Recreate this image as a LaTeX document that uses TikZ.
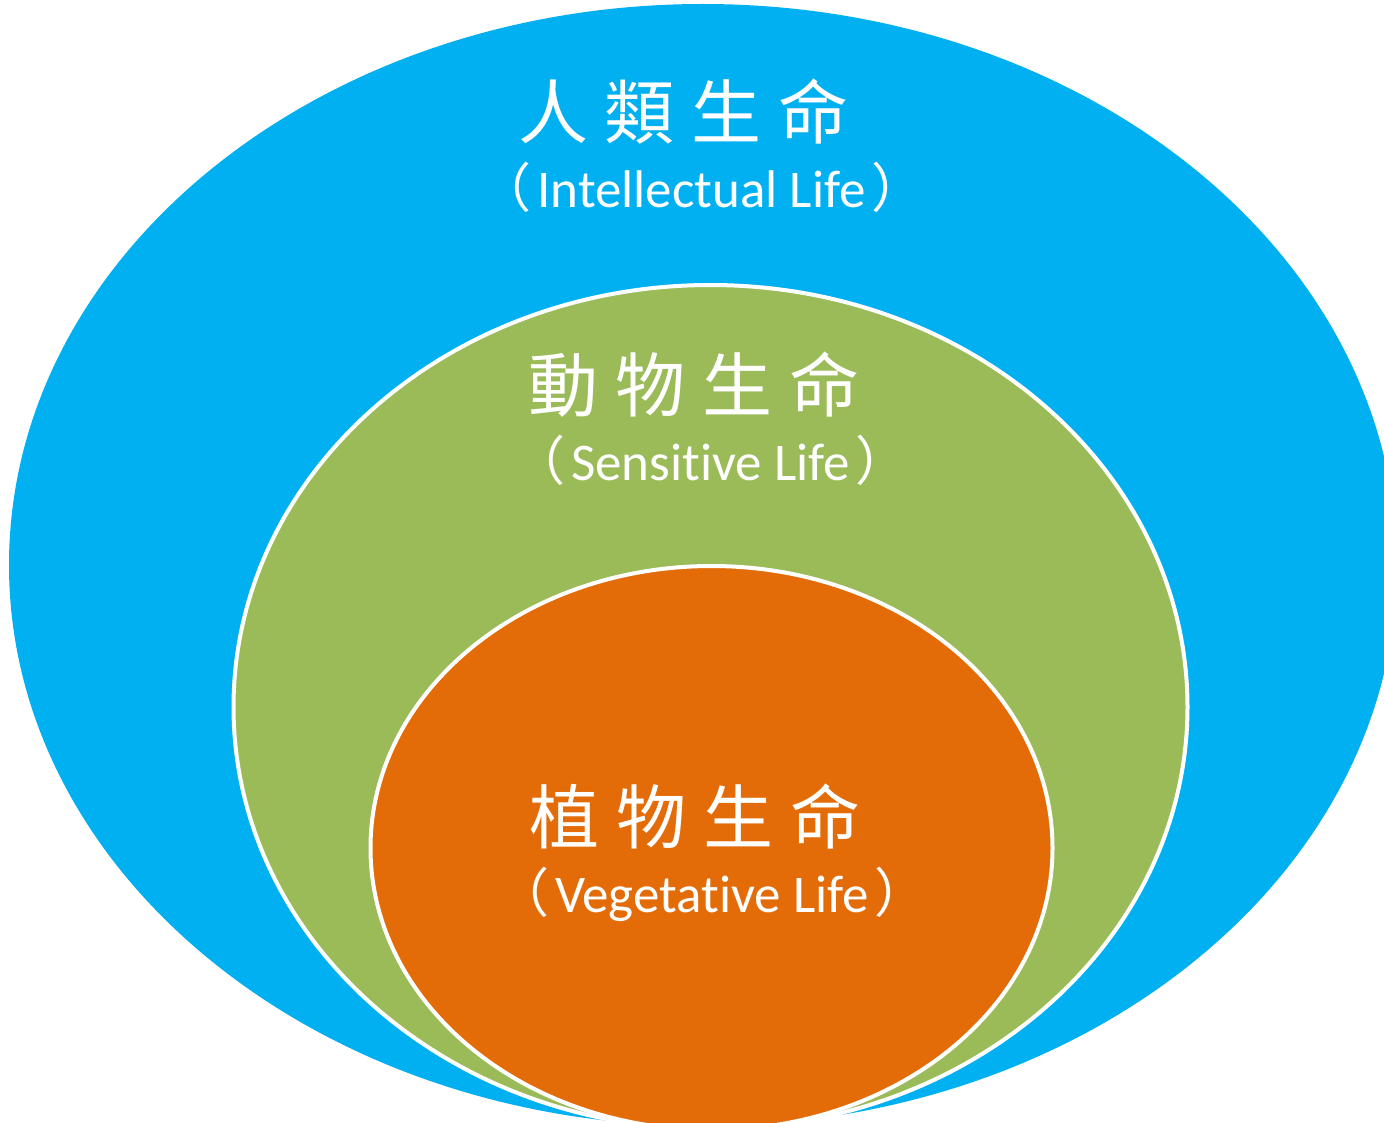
\documentclass[tikz,border=0pt]{standalone}
\usepackage{fontspec}
\setmainfont{Carlito}[Ligatures={NoCommon}]
\newfontfamily\cjk{Noto Sans CJK TC}
\definecolor{lifeblue}{HTML}{00B0F0}
\definecolor{lifegreen}{HTML}{9BBB59}
\definecolor{lifeorange}{HTML}{E36C09}
\tikzset{
  ring/.style={draw=white, line width=4pt},
  cjktitle/.style={text=white, inner sep=0pt, anchor=center, font=\cjk\fontsize{70pt}{74pt}\selectfont},
  entitle/.style={text=white, inner sep=0pt, anchor=base, font=\fontsize{53pt}{60pt}\selectfont}
}
\newcommand{\cg}{\hspace{17pt}}
\newcommand{\lp}{{\cjk （}\hspace{6pt}}
\newcommand{\rp}{\hspace{6pt}{\cjk ）}}
\begin{document}
\begin{tikzpicture}[x=1pt,y=-1pt]
\useasboundingbox (0,0) rectangle (1384,1123);
\clip (0,0) rectangle (1384,1123);
\fill[lifeblue] (703,565) ellipse [x radius=694pt, y radius=561pt];
\filldraw[fill=lifegreen, ring] (710.5,707) ellipse [x radius=477pt, y radius=422pt];
\filldraw[fill=lifeorange, ring] (711.5,848) ellipse [x radius=341pt, y radius=282pt];
\node[cjktitle] (human) at (683.5,112) {人\cg 類\cg 生\cg 命};
\node[entitle] (intel) at (701.5,208) {\lp Intellectual Life\rp};
\node[cjktitle] (animal) at (694,385) {動\cg 物\cg 生\cg 命};
\node[entitle] (sens) at (710.5,480) {\lp Sensitive Life\rp};
\node[cjktitle] (plant) at (695,817) {植\cg 物\cg 生\cg 命};
\node[entitle] (veg) at (712,912) {\lp Vegetative Life\rp};
\end{tikzpicture}
\end{document}
